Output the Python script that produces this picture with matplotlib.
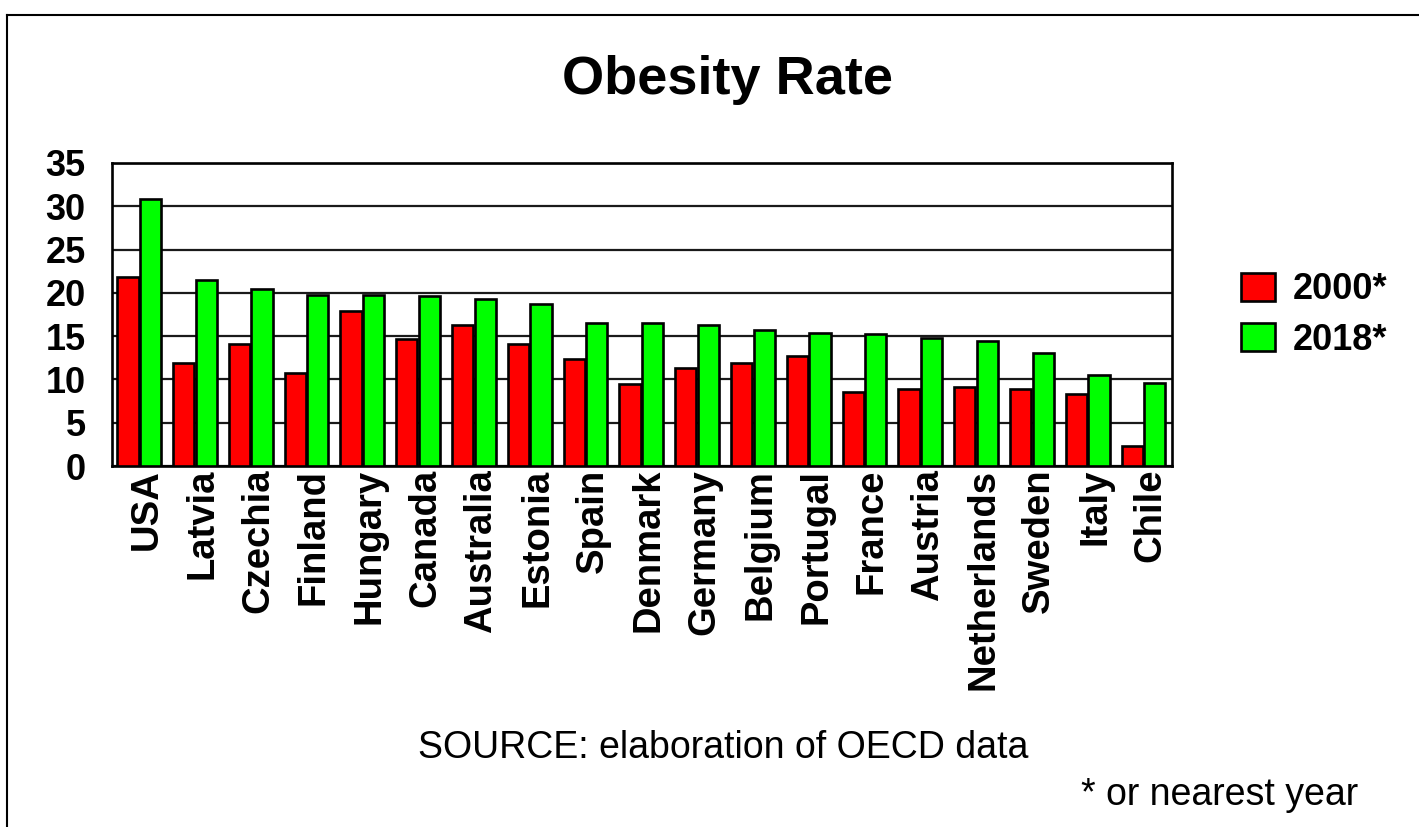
import matplotlib
matplotlib.use("Agg")
import matplotlib.pyplot as plt
from matplotlib.lines import Line2D
import numpy as np

countries = ["USA", "Latvia", "Czechia", "Finland", "Hungary", "Canada", "Australia",
             "Estonia", "Spain", "Denmark", "Germany", "Belgium", "Portugal", "France",
             "Austria", "Netherlands", "Sweden", "Italy", "Chile"]
rate_2000 = [21.8, 11.9, 14.1, 10.8, 17.9, 14.7, 16.3,
             14.1, 12.4, 9.5, 11.3, 11.9, 12.7, 8.6,
             8.9, 9.1, 8.9, 8.3, 2.3]
rate_2018 = [30.8, 21.5, 20.4, 19.8, 19.8, 19.6, 19.3,
             18.7, 16.5, 16.5, 16.3, 15.7, 15.4, 15.2,
             14.8, 14.4, 13.0, 10.5, 9.6]
series_labels = ["2000*", "2018*"]
yticks = [0, 5, 10, 15, 20, 25, 30, 35]

plt.rcParams['font.family'] = ['Liberation Sans', 'DejaVu Sans']

W, H = 1419, 827
fig = plt.figure(figsize=(W / 100, H / 100), dpi=100)
fig.patch.set_facecolor("white")

ax = fig.add_axes([112 / W, 1 - 466 / H, (1172 - 112) / W, (466 - 163) / H])
x = np.arange(len(countries))
bw = 0.38
b1 = ax.bar(x - 0.215, rate_2000, width=bw, color="#FF0000", edgecolor="black",
            linewidth=1.9, zorder=3, label=series_labels[0])
b2 = ax.bar(x + 0.19, rate_2018, width=bw, color="#00FF00", edgecolor="black",
            linewidth=1.9, zorder=3, label=series_labels[1])

ax.set_xlim(-0.5, len(countries) - 0.5)
ax.set_ylim(0, 35)
ax.set_yticks(yticks)
ax.set_yticklabels([str(t) for t in yticks], fontsize=26, fontweight="bold")
ax.set_xticks(x + 0.12)
ax.set_xticklabels(countries, rotation=90, fontsize=27.5, fontweight="bold")
ax.tick_params(axis="y", length=0, pad=19)
ax.tick_params(axis="x", length=0, pad=2)
ax.yaxis.grid(True, color="#1a1a1a", linewidth=1.6, zorder=0)
ax.set_axisbelow(True)
for s in ax.spines.values():
    s.set_linewidth(1.9)
    s.set_color("black")

fig.text(727 / W, 1 - 80 / H, "Obesity Rate", ha="center", va="center",
         fontsize=39, fontweight="bold")
fig.text(723 / W, 1 - 748 / H, "SOURCE: elaboration of OECD data", ha="center",
         va="center", fontsize=27)
fig.text(1220 / W, 1 - 795 / H, "* or nearest year", ha="center", va="center",
         fontsize=27)

fig.legend(handles=[b1, b2], labels=series_labels, loc="center left",
           bbox_to_anchor=(1216 / W, 1 - 315 / H), frameon=False,
           prop={"size": 26, "weight": "bold"}, handlelength=0.92,
           handleheight=0.85, handletextpad=0.5, labelspacing=0.42,
           borderpad=0.2)

# figure frame lines (top and left)
fig.add_artist(Line2D([7 / W, 1.0], [1 - 15 / H, 1 - 15 / H], color="black",
                      linewidth=1.5, transform=fig.transFigure))
fig.add_artist(Line2D([7 / W, 7 / W], [0, 1 - 15 / H], color="black",
                      linewidth=1.5, transform=fig.transFigure))

fig.savefig("out.png", dpi=100)
